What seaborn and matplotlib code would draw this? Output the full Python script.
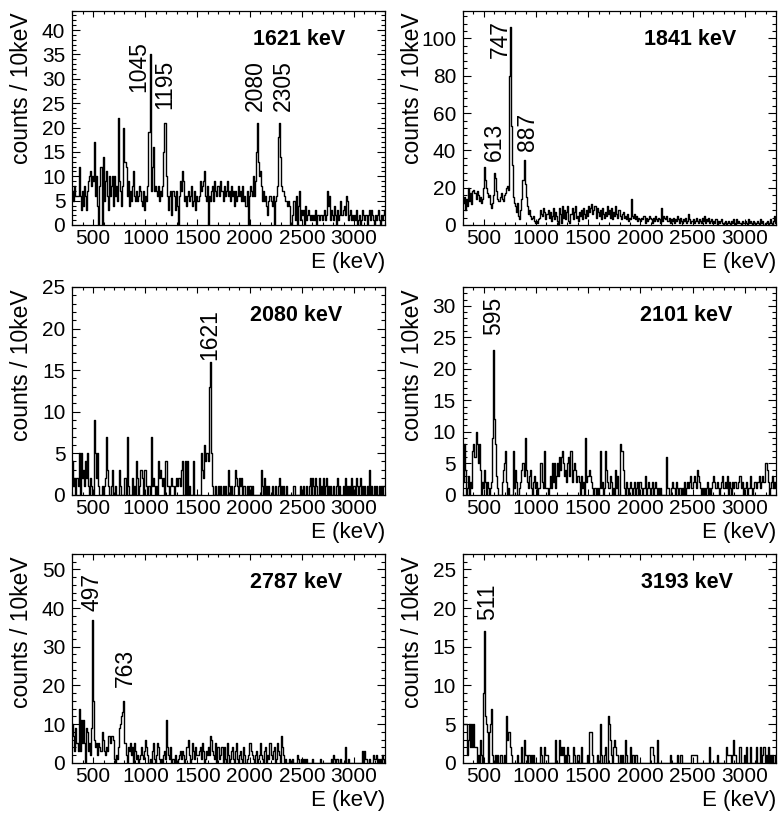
import numpy as np
import pandas as pd
import seaborn as sns
import matplotlib
matplotlib.use("Agg")
import matplotlib.pyplot as plt
from matplotlib.ticker import MultipleLocator, AutoMinorLocator

sns.set_theme(style="ticks")
plt.rcParams["font.family"] = ["Liberation Sans", "DejaVu Sans"]
plt.rcParams["text.color"] = "black"
plt.rcParams["axes.labelcolor"] = "black"
plt.rcParams["xtick.color"] = "black"
plt.rcParams["ytick.color"] = "black"

# counts per 10 keV bin, 300..3300 keV, one row = 100 keV
counts_1621 = [
    7, 5, 8, 6, 6, 6, 12, 6, 3, 7,
    4, 8, 6, 3, 7, 9, 10, 11, 8, 10,
    9, 17, 6, 10, 4, 0, 8, 12, 0, 14,
    5, 9, 11, 6, 3, 10, 6, 8, 10, 4,
    10, 6, 8, 5, 22, 9, 7, 4, 8, 20,
    13, 12, 6, 9, 4, 7, 5, 8, 11, 6,
    5, 7, 5, 6, 8, 7, 5, 4, 7, 3,
    6, 5, 8, 19, 35, 7, 12, 16, 7, 8,
    7, 6, 8, 5, 7, 6, 8, 15, 21, 21,
    10, 6, 3, 6, 7, 2, 7, 6, 3, 7,
    4, 0, 6, 9, 7, 11, 9, 5, 6, 4,
    6, 7, 5, 6, 8, 4, 5, 7, 3, 6,
    5, 6, 9, 7, 8, 9, 11, 6, 5, 8,
    0, 6, 5, 7, 8, 5, 9, 7, 6, 8,
    8, 6, 9, 7, 5, 8, 6, 7, 9, 6,
    7, 5, 8, 6, 7, 4, 7, 5, 6, 8,
    6, 7, 5, 8, 5, 6, 4, 7, 0, 6,
    8, 7, 6, 10, 6, 9, 15, 21, 13, 10,
    11, 8, 5, 7, 5, 6, 4, 2, 5, 6,
    5, 4, 6, 0, 5, 6, 8, 18, 21, 14,
    8, 7, 7, 6, 5, 5, 4, 5, 4, 0,
    0, 2, 5, 1, 6, 0, 4, 7, 1, 3,
    2, 3, 0, 4, 1, 2, 3, 2, 1, 2,
    1, 2, 1, 3, 0, 2, 1, 2, 2, 1,
    2, 3, 1, 2, 7, 4, 6, 1, 3, 2,
    1, 4, 2, 0, 3, 1, 2, 5, 2, 3,
    4, 2, 6, 5, 1, 2, 3, 1, 2, 1,
    2, 1, 3, 0, 1, 2, 0, 1, 3, 2,
    1, 2, 0, 2, 3, 1, 3, 2, 1, 0,
    2, 1, 2, 3, 1, 0, 2, 1, 2, 3,
]

counts_1841 = [
    12, 15, 8, 14, 10, 20, 13, 17, 11, 18,
    19, 17, 14, 18, 16, 13, 15, 12, 14, 20,
    31, 24, 20, 17, 15, 16, 11, 9, 12, 16,
    28, 25, 18, 14, 13, 15, 17, 14, 13, 16,
    17, 20, 21, 19, 80, 106, 53, 32, 15, 12,
    10, 7, 12, 5, 3, 8, 14, 24, 35, 22,
    15, 10, 6, 8, 5, 3, 4, 5, 2, 1,
    2, 1, 3, 4, 8, 6, 5, 9, 7, 3,
    6, 8, 4, 7, 2, 5, 9, 3, 7, 5,
    2, 0, 9, 6, 1, 10, 4, 8, 3, 7,
    10, 2, 1, 6, 9, 3, 7, 10, 4, 5,
    2, 7, 5, 8, 3, 9, 6, 4, 8, 5,
    10, 7, 9, 11, 6, 8, 10, 4, 9, 7,
    5, 8, 3, 9, 6, 4, 7, 5, 10, 6,
    8, 4, 9, 3, 7, 5, 10, 6, 4, 8,
    5, 3, 6, 7, 4, 5, 3, 6, 2, 4,
    3, 14, 5, 4, 6, 3, 5, 2, 4, 3,
    2, 4, 3, 5, 1, 4, 2, 3, 5, 4,
    3, 1, 4, 2, 5, 3, 2, 4, 3, 1,
    9, 2, 5, 4, 3, 5, 2, 4, 1, 3,
    2, 4, 1, 3, 2, 5, 3, 1, 4, 2,
    1, 3, 2, 4, 1, 2, 6, 3, 1, 2,
    3, 1, 2, 4, 2, 1, 3, 2, 1, 4,
    2, 5, 1, 3, 2, 4, 1, 2, 3, 1,
    2, 1, 3, 0, 2, 1, 2, 3, 1, 0,
    1, 2, 0, 1, 2, 1, 0, 2, 1, 3,
    1, 0, 3, 1, 2, 1, 0, 2, 1, 1,
    2, 1, 0, 3, 1, 2, 1, 0, 2, 1,
    0, 1, 2, 1, 0, 3, 1, 2, 0, 1,
    1, 2, 0, 1, 3, 1, 0, 2, 5, 1,
]

counts_2080 = [
    4, 1, 2, 0, 2, 1, 5, 0, 5, 2,
    3, 1, 4, 2, 5, 1, 0, 2, 1, 0,
    0, 9, 5, 2, 5, 1, 0, 0, 1, 0,
    1, 2, 7, 3, 1, 0, 0, 1, 3, 0,
    0, 1, 0, 0, 0, 3, 1, 0, 0, 0,
    2, 0, 7, 1, 0, 0, 0, 2, 0, 1,
    0, 4, 2, 0, 1, 3, 3, 2, 0, 3,
    3, 1, 0, 1, 0, 7, 1, 2, 1, 0,
    1, 0, 4, 2, 3, 2, 1, 2, 0, 4,
    4, 1, 1, 0, 1, 2, 1, 0, 1, 2,
    1, 2, 2, 1, 3, 4, 0, 0, 4, 0,
    4, 0, 1, 0, 0, 0, 4, 0, 0, 0,
    0, 0, 0, 5, 3, 2, 6, 4, 5, 5,
    4, 13, 16, 5, 1, 0, 0, 1, 0, 0,
    1, 0, 1, 0, 1, 0, 1, 0, 0, 3,
    1, 0, 1, 0, 0, 1, 3, 2, 1, 0,
    2, 1, 2, 0, 1, 1, 0, 1, 0, 1,
    1, 0, 1, 0, 0, 0, 0, 0, 0, 0,
    0, 3, 1, 0, 2, 0, 1, 0, 1, 0,
    0, 1, 0, 0, 1, 0, 0, 1, 2, 0,
    1, 0, 1, 0, 0, 1, 0, 0, 0, 0,
    0, 0, 1, 0, 0, 0, 0, 0, 1, 0,
    0, 1, 0, 0, 1, 0, 0, 1, 2, 0,
    2, 1, 0, 2, 1, 0, 2, 0, 1, 0,
    2, 0, 1, 2, 0, 1, 0, 1, 0, 0,
    1, 0, 0, 1, 2, 0, 1, 0, 0, 1,
    0, 2, 0, 1, 0, 1, 0, 2, 0, 1,
    1, 0, 2, 1, 0, 1, 2, 0, 1, 0,
    1, 0, 1, 0, 3, 0, 1, 0, 0, 1,
    0, 1, 0, 0, 1, 0, 1, 0, 1, 1,
]

counts_2101 = [
    2, 8, 4, 0, 1, 3, 0, 2, 1, 7,
    8, 6, 10, 8, 5, 8, 4, 0, 2, 1,
    4, 2, 0, 2, 1, 0, 1, 2, 9, 23,
    12, 8, 3, 1, 0, 0, 0, 2, 4, 5,
    7, 2, 0, 1, 0, 0, 0, 0, 7, 1,
    4, 2, 0, 0, 1, 2, 4, 5, 3, 9,
    4, 2, 1, 3, 4, 1, 0, 2, 3, 1,
    2, 0, 1, 1, 5, 5, 2, 1, 7, 1,
    1, 0, 1, 3, 1, 5, 2, 5, 1, 3,
    5, 3, 6, 4, 6, 7, 5, 3, 4, 2,
    5, 6, 3, 7, 2, 4, 5, 4, 2, 3,
    3, 2, 0, 3, 1, 2, 0, 9, 2, 3,
    3, 4, 3, 2, 1, 0, 1, 0, 1, 0,
    1, 7, 1, 2, 0, 1, 7, 4, 2, 1,
    1, 3, 2, 0, 1, 0, 4, 1, 3, 0,
    8, 7, 7, 4, 1, 0, 2, 1, 0, 1,
    2, 1, 0, 1, 2, 0, 1, 2, 0, 2,
    2, 1, 0, 1, 3, 0, 1, 2, 1, 0,
    1, 2, 0, 1, 2, 1, 0, 1, 0, 1,
    0, 0, 0, 0, 0, 6, 1, 0, 0, 1,
    2, 1, 1, 0, 2, 1, 0, 1, 1, 0,
    1, 0, 2, 0, 1, 2, 1, 2, 3, 1,
    2, 3, 2, 1, 4, 3, 2, 1, 0, 1,
    0, 1, 0, 1, 2, 0, 1, 0, 1, 2,
    3, 2, 1, 2, 1, 0, 1, 2, 3, 1,
    1, 2, 1, 3, 0, 2, 1, 0, 2, 1,
    2, 2, 1, 1, 2, 3, 1, 2, 0, 1,
    1, 2, 0, 1, 1, 3, 1, 0, 1, 2,
    2, 1, 2, 2, 3, 1, 2, 3, 2, 5,
    5, 4, 2, 0, 1, 2, 3, 1, 2, 1,
]

counts_2787 = [
    10, 7, 3, 9, 5, 3, 14, 3, 11, 5,
    11, 5, 0, 9, 8, 3, 5, 2, 9, 37,
    16, 6, 4, 5, 2, 5, 4, 3, 8, 6,
    3, 2, 4, 3, 7, 7, 5, 7, 7, 6,
    1, 0, 2, 1, 4, 9, 10, 12, 13, 16,
    5, 2, 0, 4, 3, 5, 2, 4, 0, 5,
    3, 1, 2, 0, 1, 2, 4, 2, 1, 3,
    6, 4, 2, 0, 1, 0, 3, 5, 1, 0,
    2, 5, 4, 1, 0, 1, 0, 2, 3, 1,
    11, 4, 2, 1, 4, 0, 1, 0, 2, 0,
    0, 1, 2, 3, 1, 3, 2, 0, 1, 4,
    4, 6, 2, 0, 1, 5, 3, 1, 4, 2,
    2, 3, 4, 1, 5, 3, 0, 1, 3, 2,
    4, 2, 7, 6, 3, 2, 1, 5, 0, 4,
    4, 1, 2, 4, 0, 4, 1, 0, 5, 2,
    0, 1, 3, 4, 1, 0, 3, 5, 1, 0,
    2, 3, 1, 0, 4, 2, 0, 1, 2, 5,
    5, 3, 2, 1, 0, 2, 3, 0, 1, 2,
    5, 2, 1, 0, 3, 4, 0, 2, 1, 5,
    2, 1, 3, 4, 0, 1, 5, 3, 2, 0,
    7, 4, 2, 0, 1, 0, 0, 0, 1, 0,
    0, 1, 0, 0, 0, 2, 1, 0, 0, 1,
    1, 0, 1, 0, 1, 0, 0, 0, 0, 0,
    1, 0, 0, 0, 0, 0, 0, 1, 0, 0,
    0, 0, 0, 0, 0, 0, 0, 0, 1, 0,
    2, 1, 0, 1, 1, 0, 0, 1, 0, 0,
    0, 4, 0, 0, 1, 0, 0, 0, 0, 0,
    0, 0, 0, 0, 0, 0, 0, 0, 3, 0,
    3, 1, 0, 0, 1, 0, 0, 0, 2, 1,
    1, 2, 0, 1, 0, 1, 0, 2, 1, 0,
]

counts_3193 = [
    5, 5, 5, 5, 1, 3, 5, 2, 5, 2,
    5, 2, 2, 0, 1, 0, 3, 1, 0, 9,
    17, 6, 5, 4, 0, 4, 5, 7, 1, 0,
    0, 1, 0, 1, 0, 1, 1, 0, 0, 1,
    0, 6, 3, 4, 4, 2, 1, 0, 0, 0,
    0, 0, 1, 0, 0, 0, 2, 0, 3, 1,
    1, 0, 1, 1, 0, 1, 0, 1, 0, 0,
    0, 0, 0, 0, 2, 1, 0, 0, 2, 1,
    1, 0, 0, 0, 0, 0, 0, 0, 3, 0,
    0, 0, 3, 1, 2, 1, 2, 0, 1, 0,
    2, 1, 0, 0, 0, 2, 1, 0, 0, 1,
    1, 0, 0, 2, 0, 0, 0, 0, 0, 1,
    0, 4, 4, 4, 1, 0, 0, 0, 1, 0,
    0, 5, 1, 0, 0, 1, 2, 0, 0, 6,
    5, 3, 1, 0, 2, 3, 2, 1, 1, 0,
    1, 0, 1, 0, 0, 3, 1, 0, 0, 0,
    2, 0, 1, 1, 0, 1, 1, 0, 0, 0,
    0, 0, 0, 0, 0, 0, 0, 0, 0, 2,
    2, 2, 1, 0, 0, 0, 3, 0, 0, 0,
    0, 0, 0, 0, 0, 0, 0, 0, 1, 0,
    0, 0, 0, 0, 0, 1, 0, 0, 1, 1,
    0, 0, 0, 0, 0, 0, 0, 0, 0, 1,
    1, 1, 1, 1, 0, 0, 0, 0, 0, 0,
    0, 0, 0, 0, 0, 0, 2, 0, 0, 0,
    0, 0, 0, 1, 0, 0, 0, 0, 0, 0,
    0, 0, 2, 1, 1, 1, 1, 0, 1, 3,
    1, 1, 0, 0, 0, 2, 0, 0, 0, 1,
    0, 2, 0, 0, 0, 2, 0, 0, 0, 0,
    0, 2, 0, 0, 0, 2, 0, 1, 2, 0,
    1, 0, 2, 0, 1, 0, 1, 0, 0, 1,
]

gates = ["1621 keV", "1841 keV", "2080 keV", "2101 keV", "2787 keV", "3193 keV"]
spectra = [counts_1621, counts_1841, counts_2080, counts_2101, counts_2787, counts_3193]
y_max = [44, 115, 25, 33, 54, 27]
y_step = [5, 20, 5, 5, 10, 5]

# peak labels: (text, x in keV, bottom of text in counts)
peaks_1621 = [("1045", 935, 27.2), ("1195", 1189, 23.8), ("2080", 2058, 23.4), ("2305", 2323, 23.4)]
peaks_1841 = [("613", 597, 34.3), ("747", 661, 89.7), ("887", 923, 39.6)]
peaks_2080 = [("1621", 1620, 16.2)]
peaks_2101 = [("595", 597, 25.3)]
peaks_2787 = [("497", 486, 39.2), ("763", 805, 19.7)]
peaks_3193 = [("511", 540, 18.4)]
peak_labels = [peaks_1621, peaks_1841, peaks_2080, peaks_2101, peaks_2787, peaks_3193]

centers = np.arange(305, 3300, 10)

W, H = 778, 814
fig = plt.figure(figsize=(W / 100, H / 100), dpi=100)

col_left = [72.3, 463.0]
row_tb = [(10.5, 225.0), (287.0, 494.7), (554.0, 762.7)]
ax_w = 313.0

for i, (gate, counts) in enumerate(zip(gates, spectra)):
    r, c = divmod(i, 2)
    top, bot = row_tb[r]
    h = bot - top
    ax = fig.add_axes([col_left[c] / W, 1 - bot / H, ax_w / W, h / H])

    df = pd.DataFrame({"E": centers, "n": counts})
    sns.histplot(data=df, x="E", weights="n", binwidth=10, binrange=(300, 3300),
                 element="step", fill=False, color="black", linewidth=1.0,
                 ax=ax)

    ax.set_xlim(300, 3300)
    ax.set_ylim(0, y_max[i])
    ax.xaxis.set_major_locator(MultipleLocator(500))
    ax.xaxis.set_minor_locator(MultipleLocator(100))
    ax.yaxis.set_major_locator(MultipleLocator(y_step[i]))
    ax.yaxis.set_minor_locator(AutoMinorLocator(5))
    ax.tick_params(which="both", direction="in", top=True, right=True,
                   colors="black", width=0.8)
    ax.tick_params(axis="x", which="major", length=4, labelsize=15, pad=3)
    ax.tick_params(axis="x", which="minor", length=2)
    ax.tick_params(axis="y", which="major", length=5.5, labelsize=15, pad=5)
    ax.tick_params(axis="y", which="minor", length=3)
    for s in ax.spines.values():
        s.set_color("black")
        s.set_linewidth(0.9)

    ax.set_xlabel("E (keV)", fontsize=16, loc="right", color="black")
    ax.xaxis.set_label_coords(1.0, -27.0 / h)
    ax.set_ylabel("counts / 10keV", fontsize=16.5, loc="top", color="black")
    ax.yaxis.set_label_coords(-0.126, 0.99)

    ax.text(0.872 if r == 0 else 0.862, 0.865, gate, transform=ax.transAxes,
            ha="right", va="center", fontsize=15.5, fontweight="bold",
            color="black")

    for txt, xe, yb in peak_labels[i]:
        ax.text(xe, yb, txt, rotation=90, ha="center", va="bottom",
                fontsize=16.5, color="black")

fig.savefig("out.png", dpi=100)
